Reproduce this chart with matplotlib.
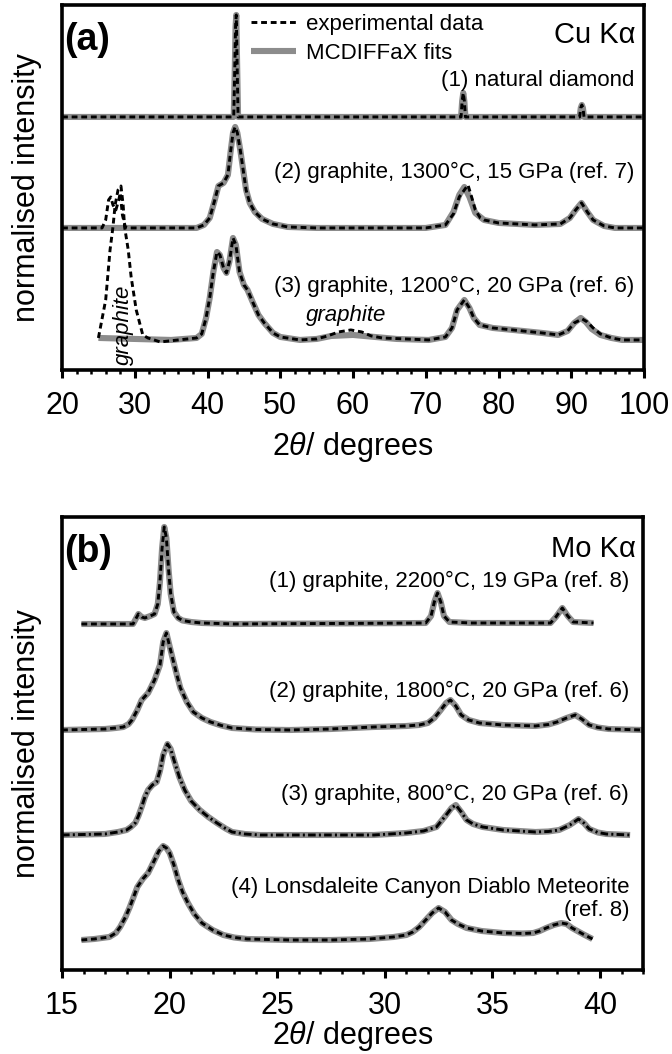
import numpy as np
import matplotlib
matplotlib.use("Agg")
import matplotlib.pyplot as plt
from matplotlib.ticker import MultipleLocator

plt.rcParams['font.family'] = ['Liberation Sans', 'DejaVu Sans']
plt.rcParams['mathtext.fontset'] = 'custom'
plt.rcParams['mathtext.rm'] = 'Liberation Sans'
plt.rcParams['mathtext.it'] = 'Liberation Sans:italic'

GREY = '#8c8c8c'

# ---- (a) Cu K-alpha, intensities relative to each pattern's baseline ----
a_offsets = [25.3, 14.2, 3.2]
a_labels = ["(1) natural diamond",
            "(2) graphite, 1300°C, 15 GPa (ref. 7)",
            "(3) graphite, 1200°C, 20 GPa (ref. 6)"]

# (1) natural diamond (fit and data coincide)
a1_x = [20, 43.6, 43.75, 43.85, 43.95, 44.05, 44.2, 74.85, 75.0, 75.15, 75.3, 75.45,
        91.15, 91.3, 91.45, 91.6, 91.75, 100]
a1_y = [0, 0, 5.0, 9.0, 10.2, 6.0, 0, 0, 1.6, 2.4, 1.6, 0, 0, 0.9, 1.2, 0.9, 0, 0]

# (2) graphite 1300C, 15 GPa
a2_fit_x = [20, 38.5, 39.5, 40.3, 41.0, 41.5, 42.2, 42.8, 43.2, 43.5,
            43.8, 44.1, 44.5, 44.9, 45.3, 45.8, 46.5, 47.5, 49, 51,
            55, 70, 72.7, 73.8, 74.6, 75.3, 76.0, 76.8, 78, 80,
            85, 88.5, 89.8, 90.6, 91.4, 92.2, 93, 94.5, 96, 100]
a2_fit_y = [0, 0, 0.3, 1.0, 2.8, 4.2, 4.5, 5.3, 7.8, 9.5,
            10.1, 9.5, 7.8, 5.8, 3.8, 2.5, 1.6, 0.9, 0.4, 0.1,
            0, 0, 0.3, 1.6, 3.3, 4.1, 3.1, 1.5, 0.8, 0.5,
            0.3, 0.4, 1.0, 1.8, 2.5, 1.6, 0.8, 0.2, 0, 0]
a2_exp_x = [20, 25.5, 26.0, 26.4, 26.7, 27.0, 27.4, 27.8, 28.0, 28.3,
            28.7, 29.2, 38.5, 39.5, 40.3, 41.0, 41.5, 42.2, 42.8, 43.2,
            43.5, 43.8, 44.1, 44.5, 44.9, 45.3, 45.8, 46.5, 47.5, 49,
            51, 55, 70, 72.7, 73.8, 74.6, 75.3, 75.8, 76.3, 76.8,
            77.5, 78, 80, 85, 88.5, 89.8, 90.6, 91.4, 92.2, 93,
            94.5, 96, 100]
a2_exp_y = [0, 0, 0.8, 2.8, 3.1, 2.3, 1.8, 2.8, 3.5, 1.3,
            0.1, 0, 0, 0.3, 1.0, 2.8, 4.2, 4.5, 5.3, 7.8,
            9.5, 10.1, 9.5, 7.8, 5.8, 3.8, 2.5, 1.6, 0.9, 0.4,
            0.1, 0, 0, 0.3, 1.4, 3.1, 3.8, 4.3, 3.1, 1.8,
            1.0, 0.8, 0.5, 0.3, 0.4, 1.0, 1.8, 2.5, 1.6, 0.8,
            0.2, 0, 0]

# (3) graphite 1200C, 20 GPa
a3_fit_x = [25, 30, 35, 38.5, 39.2, 39.8, 40.3, 40.8, 41.3, 41.7,
            42.2, 42.6, 43.0, 43.5, 43.9, 44.4, 45.0, 45.5, 46.2, 47.0,
            47.8, 49, 50, 52.7, 55, 57, 60, 63, 66, 70.4,
            72.7, 73.6, 74.3, 75.3, 76.0, 76.6, 77.4, 79.2, 82, 86,
            88.2, 89.5, 90.4, 91.3, 92.0, 92.8, 94, 95.5, 97, 100]
a3_fit_y = [0, -0.1, -0.2, 0, 0.4, 2.0, 4.0, 6.6, 8.6, 8.3,
            7.0, 6.5, 7.6, 10.0, 9.3, 6.6, 5.3, 4.8, 3.6, 2.3,
            1.5, 0.5, 0.1, -0.2, -0.1, 0.2, 0.3, 0.1, -0.1, -0.2,
            0.1, 1.0, 2.8, 3.8, 3.0, 2.0, 1.3, 1.0, 0.8, 0.5,
            0.3, 0.7, 1.5, 2.0, 1.6, 0.9, 0.3, 0, -0.2, -0.2]
a3_exp_x = [25.0, 26.0, 26.6, 27.0, 27.3, 27.7, 28.1, 28.4, 28.6, 29.1,
            29.5, 30.2, 31.1, 31.8, 33.5, 36, 38.5, 39.2, 39.8, 40.3,
            40.8, 41.3, 41.7, 42.2, 42.6, 43.0, 43.5, 43.9, 44.4, 45.0,
            45.5, 46.2, 47.0, 47.8, 49, 50, 52.7, 55, 56.5, 58,
            59.7, 61.2, 62.5, 64, 70.4, 72.7, 73.6, 74.3, 75.3, 76.0,
            76.6, 77.4, 79.2, 82, 86, 88.2, 89.5, 90.4, 91.5, 92.2,
            93.0, 94, 95.5, 97, 100]
a3_exp_y = [0, 3.8, 8.8, 11.1, 13.3, 14.8, 15.2, 13.3, 11.1, 8.8,
            6.1, 2.8, 0.3, 0, -0.4, -0.2, 0, 0.4, 2.0, 4.0,
            6.6, 8.6, 8.3, 7.0, 6.5, 7.6, 10.0, 9.3, 6.6, 5.3,
            4.8, 3.6, 2.3, 1.5, 0.5, 0.1, -0.2, -0.1, 0.2, 0.6,
            0.8, 0.6, 0.2, 0, -0.2, 0.1, 1.0, 2.8, 3.8, 3.0,
            2.0, 1.3, 1.0, 0.8, 0.5, 0.3, 0.7, 1.5, 1.9, 1.6,
            1.0, 0.4, 0, -0.2, -0.2]

# ---- (b) Mo K-alpha ----
b_offsets = [34.6, 24.0, 13.5, 3.0]
b_labels = ["(1) graphite, 2200°C, 19 GPa (ref. 8)",
            "(2) graphite, 1800°C, 20 GPa (ref. 6)",
            "(3) graphite, 800°C, 20 GPa (ref. 6)",
            "(4) Lonsdaleite Canyon Diablo Meteorite",
            "(ref. 8)"]

b1_x = [15.9, 18.3, 18.45, 18.55, 18.7, 18.85, 19.1, 19.3, 19.45, 19.55,
        19.65, 19.75, 19.85, 19.95, 20.05, 20.2, 20.4, 20.6, 21.0, 21.5,
        23, 31.9, 32.15, 32.3, 32.45, 32.6, 32.75, 33.0, 34, 37.7,
        37.95, 38.25, 38.5, 38.75, 39.7]
b1_y = [0, 0, 0.6, 1.0, 0.7, 0.6, 0.8, 1.0, 2.0, 4.2,
        7.6, 9.7, 8.6, 5.5, 3.0, 1.2, 0.6, 0.35, 0.2, 0.1,
        0, 0.1, 0.8, 2.2, 3.1, 2.2, 0.8, 0.2, 0.1, 0.1,
        0.7, 1.6, 0.8, 0.2, 0.1]

b2_x = [15, 17.0, 17.5, 17.85, 18.1, 18.25, 18.5, 18.7, 19.0, 19.3,
        19.55, 19.7, 19.85, 20.1, 20.3, 20.5, 20.8, 21.1, 21.5, 21.9,
        22.4, 22.9, 24, 25.6, 27.5, 29.5, 31.0, 31.6, 32.0, 32.3,
        32.6, 32.85, 33.05, 33.3, 33.55, 33.9, 34.4, 35.5, 37.0, 37.6,
        38.0, 38.45, 38.85, 39.15, 39.5, 39.9, 40.4, 42]
b2_y = [0, 0.1, 0.2, 0.3, 0.6, 1.0, 2.0, 3.0, 3.7, 5.0,
        6.5, 8.8, 9.7, 7.5, 5.8, 4.2, 2.8, 1.8, 1.2, 0.8,
        0.45, 0.2, 0.05, 0, 0.1, 0.3, 0.4, 0.5, 0.7, 1.2,
        2.0, 2.7, 3.0, 2.4, 1.5, 1.0, 0.7, 0.5, 0.4, 0.55,
        0.8, 1.2, 1.5, 1.1, 0.5, 0.25, 0.1, 0]

b3_x = [15, 17.0, 17.6, 18.0, 18.2, 18.4, 18.55, 18.7, 18.85, 19.0,
        19.2, 19.4, 19.55, 19.7, 19.9, 20.05, 20.2, 20.45, 20.7, 21.0,
        21.4, 21.8, 22.2, 22.6, 22.9, 23.5, 24.2, 29.5, 31.0, 31.8,
        32.4, 32.85, 33.1, 33.3, 33.55, 33.8, 34.1, 34.55, 35.5, 37.0,
        37.6, 38.1, 38.6, 39.0, 39.25, 39.5, 39.9, 40.3, 41.4]
b3_y = [0, 0.1, 0.3, 0.5, 0.8, 1.2, 1.9, 2.8, 3.8, 4.5,
        5.0, 5.3, 6.4, 8.0, 9.1, 8.6, 7.5, 5.8, 4.5, 3.4,
        2.5, 1.8, 1.2, 0.65, 0.3, 0.1, 0, 0, 0.2, 0.4,
        0.8, 2.0, 2.7, 3.0, 2.3, 1.5, 1.1, 0.8, 0.5, 0.3,
        0.35, 0.5, 1.0, 1.6, 1.2, 0.6, 0.25, 0.1, 0]

b4_x = [15.9, 16.5, 17.2, 17.5, 17.7, 17.95, 18.15, 18.5, 18.75, 19.0,
        19.3, 19.5, 19.7, 19.85, 20.0, 20.2, 20.4, 20.6, 20.85, 21.15,
        21.5, 22.0, 22.5, 23.0, 23.6, 25.6, 27.5, 29.3, 30.4, 31.0,
        31.3, 31.6, 31.9, 32.2, 32.5, 32.8, 33.1, 33.4, 33.8, 34.5,
        35.5, 36.4, 36.9, 37.2, 37.5, 37.85, 38.2, 38.45, 38.7, 39.2,
        39.65]
b4_y = [0, 0.1, 0.3, 0.7, 1.3, 2.3, 3.3, 5.3, 6.1, 6.7,
        8.0, 8.9, 9.4, 9.2, 8.7, 7.5, 6.0, 4.8, 3.7, 2.6,
        1.7, 1.0, 0.5, 0.25, 0.1, 0, 0, 0.1, 0.3, 0.5,
        0.8, 1.3, 2.0, 2.7, 3.2, 2.8, 2.0, 1.6, 1.2, 0.9,
        0.7, 0.65, 0.7, 0.9, 1.2, 1.5, 1.7, 1.6, 1.2, 0.6,
        0.1]

DASH = (2.0, 1.3)
DASHDOT = (2.6, 1.1, 0.7, 1.1)


def draw(ax, fx, fy, ex, ey, off, dashes=DASH):
    fit, = ax.plot(fx, np.array(fy) + off, color=GREY, lw=4.4,
                   solid_joinstyle='round', solid_capstyle='butt', zorder=2)
    exp, = ax.plot(ex, np.array(ey) + off, color='black', lw=2.1,
                   dashes=dashes, zorder=3)
    return fit, exp


def style(ax, minor):
    for s in ax.spines.values():
        s.set_linewidth(2.6)
    ax.set_yticks([])
    ax.xaxis.set_minor_locator(MultipleLocator(minor))
    ax.tick_params(axis='x', which='major', direction='out', length=6,
                   width=2.2, pad=9, labelsize=22)
    ax.tick_params(axis='x', which='minor', direction='out', length=3, width=1.8)
    ax.set_ylabel("normalised intensity", fontsize=22)
    ax.yaxis.set_label_coords(-0.034, 0.5)


fig = plt.figure(figsize=(6.72, 10.54), dpi=100)

# ---------------- panel (a) ----------------
ax = fig.add_axes([0.0923, 0.6490, 0.8661, 0.3463])
draw(ax, a1_x, a1_y, a1_x, a1_y, a_offsets[0])
draw(ax, a2_fit_x, a2_fit_y, a2_exp_x, a2_exp_y, a_offsets[1])
fit, exp = draw(ax, a3_fit_x, a3_fit_y, a3_exp_x, a3_exp_y, a_offsets[2])
ax.set_xlim(20, 100)
ax.set_ylim(0, 36.5)
ax.xaxis.set_major_locator(MultipleLocator(10))
style(ax, 2)
ax.set_xlabel(r"2$\theta$/ degrees", fontsize=22)
ax.xaxis.set_label_coords(0.5, -0.164)

ax.legend([exp, fit], ["experimental data", "MCDIFFaX fits"],
          loc='upper left', bbox_to_anchor=(0.325, 0.976), frameon=False,
          fontsize=16, handlelength=2.03, handletextpad=0.45,
          labelspacing=0.36, borderpad=0, borderaxespad=0)

ax.text(0.004, 0.877, "(a)", transform=ax.transAxes, fontsize=27,
        fontweight='bold', va='baseline', ha='left')
ax.text(0.985, 0.896, "Cu Kα", transform=ax.transAxes, fontsize=21,
        va='baseline', ha='right')
for lab, yb in zip(a_labels, [0.778, 0.526, 0.214]):
    ax.text(0.983, yb, lab, transform=ax.transAxes, fontsize=16,
            va='baseline', ha='right')
ax.text(28.45, 4.5, "graphite", rotation=90, fontsize=16, style='italic',
        ha='center', va='center')
ax.text(59.0, 5.4, "graphite", fontsize=16, style='italic',
        ha='center', va='center')

# ---------------- panel (b) ----------------
bx = fig.add_axes([0.0923, 0.0797, 0.8646, 0.4298])
b_series = [(b1_x, b1_y), (b2_x, b2_y), (b3_x, b3_y), (b4_x, b4_y)]
for i, (xs, ys) in enumerate(b_series):
    draw(bx, xs, ys, xs, ys, b_offsets[i], DASHDOT if i == 2 else DASH)
bx.set_xlim(15, 42)
bx.set_ylim(0, 45.3)
bx.xaxis.set_major_locator(MultipleLocator(5))
style(bx, 1)
bx.set_xlabel(r"2$\theta$/ degrees", fontsize=22)
bx.xaxis.set_label_coords(0.5, -0.108)

bx.text(0.004, 0.901, "(b)", transform=bx.transAxes, fontsize=27,
        fontweight='bold', va='baseline', ha='left')
bx.text(0.988, 0.912, "Mo Kα", transform=bx.transAxes, fontsize=21,
        va='baseline', ha='right')
for lab, yb in zip(b_labels, [0.845, 0.603, 0.375, 0.170, 0.119]):
    bx.text(0.976, yb, lab, transform=bx.transAxes, fontsize=16,
            va='baseline', ha='right')

fig.savefig("out.png", dpi=100)
